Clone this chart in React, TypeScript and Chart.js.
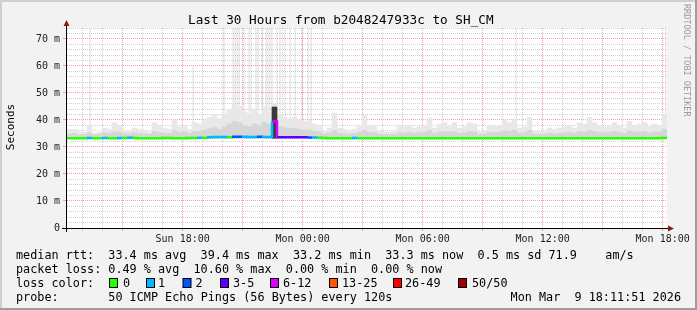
import React, { useEffect, useRef } from 'react';
import { Chart, registerables } from 'chart.js';

Chart.register(...registerables);

// ---- data ----
const START_HOUR = 12 + 13 / 60; // Sun 12:13 (hours since Sun 00:00)
const SPAN_HOURS = 30;
const BUCKET_HOURS = 0.25;
const Y_MAX_MS = 74.07;
const SMOKE_FLOOR_MS = 33.2;

const medianMs = [
  33.2, 33.2, 33.2, 33.2, 33.3, 33.2, 33.2, 33.3, 33.2, 33.2,
  33.3, 33.3, 33.4, 33.3, 33.2, 33.2, 33.2, 33.2, 33.2, 33.3,
  33.3, 33.2, 33.2, 33.2, 33.3, 33.3, 33.4, 33.4, 33.6, 33.7,
  33.7, 33.7, 33.6, 33.8, 33.8, 33.8, 33.7, 33.7, 33.8, 33.7,
  33.7, 39.4, 33.6, 33.6, 33.6, 33.6, 33.6, 33.6, 33.5, 33.5,
  33.4, 33.3, 33.2, 33.2, 33.2, 33.2, 33.2, 33.3, 33.2, 33.2,
  33.2, 33.2, 33.2, 33.2, 33.2, 33.2, 33.2, 33.2, 33.2, 33.2,
  33.2, 33.2, 33.2, 33.2, 33.2, 33.2, 33.2, 33.2, 33.2, 33.2,
  33.2, 33.2, 33.2, 33.2, 33.2, 33.2, 33.2, 33.2, 33.2, 33.2,
  33.2, 33.2, 33.2, 33.2, 33.2, 33.2, 33.2, 33.2, 33.2, 33.2,
  33.2, 33.2, 33.2, 33.2, 33.2, 33.2, 33.2, 33.2, 33.2, 33.2,
  33.2, 33.2, 33.2, 33.2, 33.2, 33.2, 33.2, 33.2, 33.2, 33.3,
];

const smokeHighMs = [
  36.5, 36.5, 35.7, 35.5, 37.8, 35.2, 35.5, 37, 36.5, 39,
  38, 36.3, 36, 37, 36.5, 36, 35.5, 39, 38, 37,
  36.5, 40, 37.5, 38, 36.5, 39, 38.5, 40, 41, 42,
  40.5, 42, 44, 46, 45, 43, 42, 44, 42, 45,
  43, 46, 42, 41, 40.5, 41, 40, 39.5, 40, 38.5,
  38, 36, 37, 42.5, 37, 36.5, 36, 36.5, 38, 41.8,
  38, 37.5, 36, 35.7, 35.5, 36, 38, 37.5, 38, 37,
  37.5, 38, 40.7, 37, 38.5, 39, 38, 39, 37, 37.5,
  39, 38.5, 35.7, 36, 38, 37.5, 38, 40, 39, 40.5,
  37, 37.5, 41, 36, 35.7, 36, 37, 36.5, 37, 37.5,
  38, 37, 39, 38.5, 41, 39, 38, 37.5, 38, 39,
  38, 37, 39.5, 38, 38.5, 39, 37.5, 38.5, 38, 42,
];

const smokeMidMs = [
  34.8, 35, 34.6, 34.7, 35.2, 34.6, 34.8, 35.3, 35, 35.6,
  35.4, 34.9, 34.8, 35.2, 35, 34.8, 34.7, 35.8, 35.4, 35.1,
  35, 36, 35.4, 35.6, 35, 35.8, 35.7, 36.2, 36.8, 37.2,
  36.6, 37.4, 38.5, 39.5, 39, 38, 37.5, 38.6, 37.8, 39.2,
  38.4, 44.8, 37.8, 37.2, 36.8, 37, 36.5, 36.2, 36.4, 35.8,
  35.6, 34.9, 35.2, 36, 35.1, 34.9, 34.8, 35, 35.4, 36.2,
  35.5, 35.3, 34.8, 34.7, 34.6, 34.8, 35.4, 35.2, 35.5, 35.1,
  35.3, 35.5, 36.2, 35, 35.6, 35.8, 35.5, 35.7, 35, 35.2,
  35.8, 35.6, 34.7, 34.8, 35.5, 35.3, 35.5, 36, 35.7, 36.2,
  35.1, 35.3, 36.2, 34.8, 34.7, 34.8, 35.1, 34.9, 35.1, 35.3,
  35.5, 35.1, 35.8, 35.6, 36.2, 35.8, 35.5, 35.3, 35.5, 35.8,
  35.5, 35.1, 35.9, 35.5, 35.6, 35.8, 35.3, 35.6, 35.5, 36.5,
];

// index into lossColors per bucket
const lossClass = [
  0, 0, 0, 0, 1, 0, 0, 1, 0, 0,
  1, 0, 1, 0, 0, 0, 0, 0, 0, 0,
  0, 0, 0, 0, 0, 0, 1, 0, 1, 1,
  1, 1, 0, 2, 2, 1, 1, 1, 2, 1,
  1, 4, 3, 3, 3, 3, 3, 3, 2, 1,
  0, 0, 0, 0, 0, 0, 0, 1, 0, 0,
  0, 0, 0, 0, 0, 0, 0, 0, 0, 0,
  0, 0, 0, 0, 0, 0, 0, 0, 0, 0,
  0, 0, 0, 0, 0, 0, 0, 0, 0, 0,
  0, 0, 0, 0, 0, 0, 0, 0, 0, 0,
  0, 0, 0, 0, 0, 0, 0, 0, 0, 0,
  0, 0, 0, 0, 0, 0, 0, 0, 0, 0,
];

const lossColors = ['#26ff00', '#00b8ff', '#0059ff', '#5e00ff', '#dd00ff', '#ff5500', '#ff0000', '#a10000'];
const lossLabels = ['0', '1', '2', '3-5', '6-12', '13-25', '26-49', '50/50'];

// isolated very high round-trip outliers (hours since Sun 00:00) and their top (ms)
const spikeHours = [
  13.37, 18.52, 20.07, 20.52, 20.62, 20.72, 20.82, 21.07, 21.32, 21.42,
  21.67, 21.77, 21.97, 22.17, 22.27, 22.37, 22.47, 22.72, 22.87, 23.12,
  23.37, 23.62, 23.97, 24.27, 24.42, 34.67, 42.15,
];
const spikeTopMs = [
  80, 60, 80, 80, 80, 80, 80, 80, 80, 80,
  80, 80, 80, 80, 80, 80, 80, 80, 80, 80,
  80, 80, 80, 80, 80, 80, 80,
];

const xTickLabels: Record<number, string> = {
  18: 'Sun 18:00',
  24: 'Mon 00:00',
  30: 'Mon 06:00',
  36: 'Mon 12:00',
  42: 'Mon 18:00',
};

const titleText = 'Last 30 Hours from b2048247933c to SH_CM';
const yAxisTitle = 'Seconds';
const watermark = 'RRDTOOL / TOBI OETIKER';
const medianRttStats = ['33.4 ms avg', '39.4 ms max', '33.2 ms min', '33.3 ms now', '0.5 ms sd', '71.9', 'am/s'];
const packetLossStats = ['0.49 % avg', '10.60 % max', '0.00 % min', '0.00 % now'];
const probeText = '50 ICMP Echo Pings (56 Bytes) every 120s';
const stampText = 'Mon Mar  9 18:11:51 2026';

// ---- styling ----
const FONT = '"DejaVu Sans Mono", monospace';
const MAJOR_GRID = '#f2a2a2';
const MINOR_GRID = '#cfcfcf';

const framePlugin = {
  id: 'rrdFrame',
  beforeDraw(chart: any) {
    const { ctx, width, height, chartArea: a } = chart;
    ctx.save();
    ctx.fillStyle = '#f2f2f2';
    ctx.fillRect(0, 0, width, height);
    ctx.fillStyle = '#cfcfcf';
    ctx.fillRect(0, 0, width, 2);
    ctx.fillRect(0, 0, 2, height);
    ctx.fillStyle = '#9e9e9e';
    ctx.fillRect(0, height - 2, width, 2);
    ctx.fillRect(width - 2, 0, 2, height);
    ctx.fillStyle = '#ffffff';
    ctx.fillRect(a.left, a.top, a.right - a.left, a.bottom - a.top);
    ctx.restore();
  },
  afterDraw(chart: any) {
    const { ctx, chartArea: a } = chart;
    ctx.save();
    // axes
    ctx.strokeStyle = '#000';
    ctx.lineWidth = 1;
    ctx.beginPath();
    ctx.moveTo(a.left - 5, a.bottom + 0.5);
    ctx.lineTo(a.right + 3, a.bottom + 0.5);
    ctx.moveTo(a.left - 0.5, a.bottom + 4);
    ctx.lineTo(a.left - 0.5, a.top - 2);
    ctx.stroke();
    ctx.fillStyle = '#8b1c1c';
    ctx.beginPath();
    ctx.moveTo(a.right + 1, a.bottom - 2.5);
    ctx.lineTo(a.right + 7, a.bottom + 0.5);
    ctx.lineTo(a.right + 1, a.bottom + 3.5);
    ctx.closePath();
    ctx.fill();
    ctx.beginPath();
    ctx.moveTo(a.left - 3.5, a.top - 2);
    ctx.lineTo(a.left - 0.5, a.top - 8);
    ctx.lineTo(a.left + 2.5, a.top - 2);
    ctx.closePath();
    ctx.fill();

    // title
    ctx.fillStyle = '#000';
    ctx.textBaseline = 'alphabetic';
    ctx.textAlign = 'left';
    ctx.font = `12.7px ${FONT}`;
    ctx.fillText(titleText, 188, 24);

    // vertical axis title
    ctx.save();
    ctx.font = `11px ${FONT}`;
    ctx.translate(14, 127);
    ctx.rotate(-Math.PI / 2);
    ctx.textAlign = 'center';
    ctx.fillText(yAxisTitle, 0, 0);
    ctx.restore();

    // watermark
    ctx.save();
    ctx.font = `8.5px ${FONT}`;
    ctx.fillStyle = '#9a9a9a';
    ctx.translate(684, 4);
    ctx.rotate(Math.PI / 2);
    ctx.textAlign = 'left';
    ctx.fillText(watermark, 0, 0);
    ctx.restore();

    // legend block (monospace columns)
    const cw = 7.1;
    const col = (i: number) => 16 + i * cw;
    ctx.font = `11.8px ${FONT}`;
    ctx.fillStyle = '#000';
    const rows = [259, 273, 287, 301];
    ctx.fillText('median rtt:', col(0), rows[0]);
    const rttCols = [13, 26, 39, 52, 65, 75, 83];
    medianRttStats.forEach((t, i) => ctx.fillText(t, col(rttCols[i]), rows[0]));
    ctx.fillText('packet loss:', col(0), rows[1]);
    const lossCols = [13, 25, 38, 50];
    packetLossStats.forEach((t, i) => ctx.fillText(t, col(lossCols[i]), rows[1]));
    ctx.fillText('loss color:', col(0), rows[2]);
    const boxX = [109, 146, 182.5, 220, 270, 329, 393, 458];
    const labX = [123, 158, 195.5, 233, 283, 342, 405, 472];
    lossColors.forEach((c, i) => {
      ctx.fillStyle = '#000';
      ctx.fillRect(boxX[i], rows[2] - 9, 9, 10);
      ctx.fillStyle = c;
      ctx.fillRect(boxX[i] + 1, rows[2] - 8, 7, 8);
      ctx.fillStyle = '#000';
      ctx.fillText(lossLabels[i], labX[i], rows[2]);
    });
    ctx.fillText('probe:', col(0), rows[3]);
    ctx.fillText(probeText, col(13), rows[3]);
    ctx.textAlign = 'right';
    ctx.fillText(stampText, 681, rows[3]);
    ctx.restore();
  },
};

export default function App() {
  const ref = useRef<HTMLCanvasElement>(null);

  useEffect(() => {
    const canvas = ref.current;
    if (!canvas) return;
    Chart.defaults.font.family = FONT;

    const bucketStart = (i: number) => START_HOUR + i * BUCKET_HOURS;
    const bucketCenter = (i: number) => START_HOUR + (i + 0.5) * BUCKET_HOURS;

    const medianPoints = medianMs.map((v, i) => ({ x: bucketStart(i), y: v }));
    medianPoints.push({ x: START_HOUR + SPAN_HOURS, y: medianMs[medianMs.length - 1] });
    const outerSmoke = smokeHighMs.map((v, i) => ({ x: bucketCenter(i), y: [SMOKE_FLOOR_MS, v] }));
    const innerSmoke = smokeMidMs.map((v, i) => ({ x: bucketCenter(i), y: [SMOKE_FLOOR_MS, v] }));
    const spikes = spikeHours.map((h, i) => ({ x: h, y: [36, spikeTopMs[i]] }));

    const hourTicks: number[] = [];
    for (let h = Math.ceil(START_HOUR); h <= START_HOUR + SPAN_HOURS; h++) hourTicks.push(h);
    const msTicks: number[] = [];
    for (let v = 0; v <= Y_MAX_MS; v += 2) msTicks.push(v);

    const chart = new Chart(canvas, {
      type: 'bar',
      data: {
        datasets: [
          {
            type: 'line',
            data: medianPoints as any,
            xAxisID: 'x',
            yAxisID: 'y',
            stepped: 'before',
            borderWidth: 2.5,
            pointRadius: 0,
            borderColor: lossColors[0],
            borderCapStyle: 'butt',
            borderJoinStyle: 'miter',
            segment: {
              borderColor: (c: any) => lossColors[lossClass[c.p0DataIndex] ?? 0],
            },
            order: 0,
          } as any,
          {
            type: 'bar',
            data: innerSmoke as any,
            xAxisID: 'x',
            yAxisID: 'y',
            grouped: false,
            barPercentage: 1,
            categoryPercentage: 1,
            borderWidth: 0,
            backgroundColor: (c: any) => {
              const i = c.dataIndex;
              if (i === undefined) return '#d6d6d6';
              return smokeMidMs[i] - SMOKE_FLOOR_MS > 9 ? '#3a3a3a' : '#d6d6d6';
            },
            order: 1,
          } as any,
          {
            type: 'bar',
            data: outerSmoke as any,
            xAxisID: 'x',
            yAxisID: 'y',
            grouped: false,
            barPercentage: 1,
            categoryPercentage: 1,
            borderWidth: 0,
            backgroundColor: '#e8e8e8',
            order: 2,
          } as any,
          {
            type: 'bar',
            data: spikes as any,
            xAxisID: 'x2',
            yAxisID: 'y',
            grouped: false,
            maxBarThickness: 2,
            borderWidth: 0,
            backgroundColor: 'rgba(0,0,0,0.09)',
            order: 3,
          } as any,
        ],
      },
      options: {
        responsive: false,
        animation: false,
        events: [],
        layout: { padding: { left: 0, right: 30, top: 28, bottom: 0 } },
        plugins: {
          legend: { display: false },
          title: { display: false },
          tooltip: { enabled: false },
        },
        scales: {
          x: {
            type: 'linear',
            position: 'bottom',
            min: START_HOUR,
            max: START_HOUR + SPAN_HOURS,
            offset: false,
            afterBuildTicks: (s: any) => {
              s.ticks = hourTicks.map((v) => ({ value: v }));
            },
            afterFit: (s: any) => {
              s.height = 82;
            },
            grid: {
              offset: false,
              lineWidth: 1,
              color: (c: any) => (c.tick && c.tick.value % 3 === 0 ? MAJOR_GRID : MINOR_GRID),
              drawTicks: true,
              tickLength: 3,
            },
            border: { display: false, dash: [1, 1] },
            ticks: {
              autoSkip: false,
              maxRotation: 0,
              minRotation: 0,
              padding: 2,
              color: '#222',
              font: { family: FONT, size: 10 },
              callback: (v: any) => xTickLabels[v as number] ?? '',
            },
          },
          x2: {
            type: 'linear',
            display: false,
            min: START_HOUR,
            max: START_HOUR + SPAN_HOURS,
            offset: false,
          },
          y: {
            type: 'linear',
            position: 'left',
            min: 0,
            max: Y_MAX_MS,
            afterBuildTicks: (s: any) => {
              s.ticks = msTicks.map((v) => ({ value: v }));
            },
            afterFit: (s: any) => {
              s.width = 67;
            },
            grid: {
              lineWidth: 1,
              color: (c: any) => (c.tick && c.tick.value % 10 === 0 ? MAJOR_GRID : MINOR_GRID),
              tickColor: (c: any) => (c.tick && c.tick.value % 10 === 0 ? MAJOR_GRID : 'rgba(0,0,0,0)'),
              drawTicks: true,
              tickLength: 4,
            },
            border: { display: false, dash: [1, 1] },
            ticks: {
              autoSkip: false,
              padding: 3,
              color: '#222',
              font: { family: FONT, size: 10 },
              callback: (v: any) => {
                const n = Number(v);
                if (n % 10 !== 0) return '';
                return n === 0 ? '0' : `${n} m`;
              },
            },
          },
        },
      } as any,
      plugins: [framePlugin],
    });

    return () => chart.destroy();
  }, []);

  return (
    <canvas
      ref={ref}
      width={697}
      height={310}
      style={{ position: 'fixed', left: 0, top: 0, display: 'block', width: 697, height: 310 }}
    />
  );
}
